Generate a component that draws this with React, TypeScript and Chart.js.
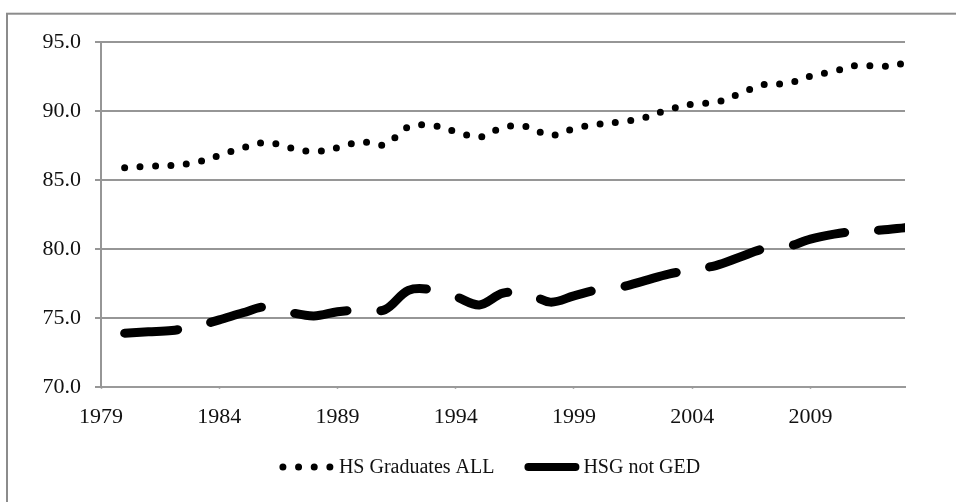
import React, { useEffect, useRef } from "react";
import { Chart, registerables } from "chart.js";

Chart.register(...registerables);

const years = [
  1980, 1981, 1982, 1983, 1984, 1985, 1986, 1987, 1988, 1989,
  1990, 1991, 1992, 1993, 1994, 1995, 1996, 1997, 1998, 1999,
  2000, 2001, 2002, 2003, 2004, 2005, 2006, 2007, 2008, 2009,
  2010, 2011, 2012, 2013,
];

const hsGraduatesAll = [
  85.89, 86.0, 86.05, 86.28, 86.77, 87.34, 87.72, 87.33, 87.05, 87.34,
  87.76, 87.56, 88.85, 88.95, 88.51, 88.1, 88.82, 88.86, 88.23, 88.72,
  89.04, 89.22, 89.52, 90.1, 90.5, 90.63, 91.24, 91.91, 91.99, 92.52,
  92.89, 93.31, 93.23, 93.45,
];

const hsgNotGed = [
  73.9, 74.0, 74.1, 74.4, 74.86, 75.38, 75.82, 75.4, 75.15, 75.45,
  75.6, 75.6, 77.0, 77.05, 76.55, 75.95, 76.8, 76.8, 76.15, 76.6,
  77.05, 77.25, 77.71, 78.18, 78.5, 78.8, 79.4, 80.0, 80.15, 80.72,
  81.08, 81.3, 81.37, 81.55,
];

const seriesLabels = ["HS Graduates ALL", "HSG not GED"];
const xTickYears = [1979, 1984, 1989, 1994, 1999, 2004, 2009];
const xRange = [1979, 2013];
const yRange = [70, 95];
const yStep = 5;

const FONT = "'Liberation Serif', 'Times New Roman', serif";
const DOT_DASH = [0, 15.45];
const LONG_DASH = [53, 34];

const framePlugin = {
  id: "frame",
  beforeDraw(chart: any) {
    const ctx = chart.ctx;
    ctx.save();
    ctx.fillStyle = "#ffffff";
    ctx.fillRect(0, 0, chart.width, chart.height);
    ctx.strokeStyle = "#8c8c8c";
    ctx.lineWidth = 2;
    ctx.strokeRect(7, 13.7, 2000, 2000);
    ctx.restore();
  },
};

// Legend drawn below the axis, using the datasets' own labels and line styles
const legendPlugin = {
  id: "bottomLegend",
  afterDraw(chart: any) {
    const ctx = chart.ctx;
    const area = chart.chartArea;
    const ds = chart.data.datasets;
    ctx.save();
    ctx.font = `20px ${FONT}`;
    ctx.textBaseline = "middle";
    ctx.textAlign = "left";
    ctx.fillStyle = "#111111";
    const sampleW = 47;
    const textGap = 9;
    const itemGap = 34;
    const t1 = ctx.measureText(ds[0].label).width;
    const t2 = ctx.measureText(ds[1].label).width;
    const total = sampleW + textGap + t1 + itemGap + sampleW + textGap + t2;
    const cx = (area.left + area.right) / 2 - 11;
    const y = area.bottom + 80;
    let x = cx - total / 2;

    // item 1: dotted
    ctx.strokeStyle = ds[0].borderColor;
    ctx.lineWidth = ds[0].borderWidth;
    ctx.lineCap = "round";
    ctx.setLineDash([0, sampleW / 3 - 0.01]);
    ctx.beginPath();
    ctx.moveTo(x, y);
    ctx.lineTo(x + sampleW, y);
    ctx.stroke();
    ctx.setLineDash([]);
    x += sampleW + textGap;
    ctx.fillText(ds[0].label, x, y + 1);
    x += t1 + itemGap;

    // item 2: thick line
    ctx.strokeStyle = ds[1].borderColor;
    ctx.lineWidth = 8;
    ctx.lineCap = "round";
    ctx.beginPath();
    ctx.moveTo(x, y);
    ctx.lineTo(x + sampleW, y);
    ctx.stroke();
    x += sampleW + textGap - 1;
    ctx.fillText(ds[1].label, x, y + 1);
    ctx.restore();
  },
};

export default function App() {
  const canvasRef = useRef<HTMLCanvasElement | null>(null);

  useEffect(() => {
    if (!canvasRef.current) return;
    const chart = new Chart(canvasRef.current, {
      type: "line",
      data: {
        datasets: [
          {
            label: seriesLabels[0],
            data: years.map((yr, i) => ({ x: yr, y: hsGraduatesAll[i] })),
            borderColor: "#000000",
            backgroundColor: "#000000",
            borderWidth: 7,
            borderDash: DOT_DASH,
            borderCapStyle: "round",
            borderJoinStyle: "round",
            pointRadius: 0,
            tension: 0.35,
            fill: false,
          },
          {
            label: seriesLabels[1],
            data: years.map((yr, i) => ({ x: yr, y: hsgNotGed[i] })),
            borderColor: "#000000",
            backgroundColor: "#000000",
            borderWidth: 9,
            borderDash: LONG_DASH,
            borderCapStyle: "round",
            borderJoinStyle: "round",
            pointRadius: 0,
            tension: 0.35,
            fill: false,
          },
        ],
      },
      options: {
        animation: false,
        responsive: false,
        maintainAspectRatio: false,
        layout: { padding: { top: 42, right: 51, left: 0, bottom: 69 } },
        plugins: {
          tooltip: { enabled: false },
          legend: { display: false },
        },
        scales: {
          x: {
            type: "linear",
            min: xRange[0],
            max: xRange[1],
            afterBuildTicks: (scale: any) => {
              scale.ticks = xTickYears.map((v) => ({ value: v }));
            },
            afterFit: (scale: any) => {
              scale.height = 46;
            },
            ticks: {
              autoSkip: false,
              maxRotation: 0,
              padding: 13,
              color: "#111111",
              font: { family: FONT, size: 22 },
              callback: (v: any) => String(v),
            },
            grid: {
              drawOnChartArea: false,
              drawTicks: true,
              tickLength: 4,
              tickColor: "#b0b0b0",
              tickWidth: 1.5,
              tickBorderDash: [1, 2],
            },
            border: { display: true, color: "#9a9a9a", width: 2, dash: [1.5, 1.5] },
          },
          y: {
            min: yRange[0],
            max: yRange[1],
            afterFit: (scale: any) => {
              scale.width = 101;
            },
            ticks: {
              stepSize: yStep,
              padding: 14,
              color: "#111111",
              font: { family: FONT, size: 22 },
              callback: (v: any) => Number(v).toFixed(1),
            },
            grid: {
              color: (ctx: any) =>
                ctx.tick && ctx.tick.value === yRange[0] ? "rgba(0,0,0,0)" : "#969696",
              lineWidth: 2,
              tickColor: "#969696",
              tickLength: 6,
            },
            border: { display: true, color: "#969696", width: 2 },
          },
        },
      },
      plugins: [framePlugin, legendPlugin],
    } as any);
    return () => chart.destroy();
  }, []);

  return (
    <div style={{ position: "absolute", left: 0, top: 0, width: 956, height: 502 }}>
      <canvas ref={canvasRef} width={956} height={502} style={{ display: "block" }} />
    </div>
  );
}
